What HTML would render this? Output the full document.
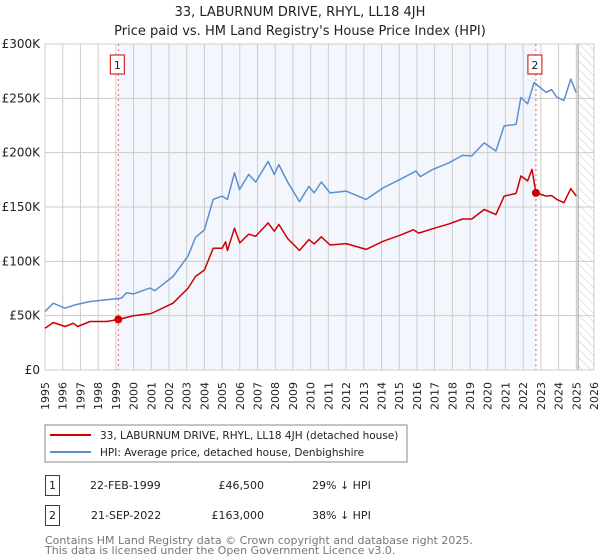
<!DOCTYPE html>
<html><head><meta charset="utf-8"><style>
body{margin:0;background:#fff;font-family:"DejaVu Sans","Liberation Sans",sans-serif;}
svg{display:block}
</style></head><body>
<svg id="chart" width="600" height="560" viewBox="0 0 600 560" font-family="DejaVu Sans, Liberation Sans, sans-serif">
<defs><pattern id="hatch" width="6" height="6" patternUnits="userSpaceOnUse" patternTransform="rotate(-45)"><line x1="0" y1="0" x2="0" y2="6" stroke="#bbb" stroke-width="0.8"/></pattern></defs>
<text x="300" y="16" text-anchor="middle" font-size="13" fill="#222">33, LABURNUM DRIVE, RHYL, LL18 4JH</text>
<text x="300" y="35" text-anchor="middle" font-size="13" fill="#222">Price paid vs. HM Land Registry's House Price Index (HPI)</text>
<g id="plot"></g>
<g>
<rect x="45" y="425" width="362" height="37" fill="#fff" stroke="#888"/>
<line x1="50" y1="435" x2="91" y2="435" stroke="#cc0000" stroke-width="2"/>
<text x="100" y="439" font-size="10.5" fill="#222">33, LABURNUM DRIVE, RHYL, LL18 4JH (detached house)</text>
<line x1="50" y1="452" x2="91" y2="452" stroke="#5b8fd0" stroke-width="2"/>
<text x="100" y="456" font-size="10.5" fill="#222">HPI: Average price, detached house, Denbighshire</text>
</g>
<g font-size="11" fill="#222">
<rect x="45.5" y="475.5" width="14" height="20" fill="#fff" stroke="#cc0000"/>
<text x="52.5" y="489" text-anchor="middle">1</text>
<text x="90" y="489">22-FEB-1999</text><text x="264" y="489" text-anchor="end">£46,500</text><text x="312" y="489">29% ↓ HPI</text>
<rect x="45.5" y="505.5" width="14" height="20" fill="#fff" stroke="#cc0000"/>
<text x="52.5" y="519" text-anchor="middle">2</text>
<text x="91" y="519">21-SEP-2022</text><text x="264" y="519" text-anchor="end">£163,000</text><text x="312" y="519">38% ↓ HPI</text>
</g>
<text x="45" y="544" font-size="11" fill="#777">Contains HM Land Registry data © Crown copyright and database right 2025.</text>
<text x="45" y="554" font-size="11" fill="#777">This data is licensed under the Open Government Licence v3.0.</text>
</svg>
<script>
const yTicks=[0,50,100,150,200,250,300];
const yTickLabels=["£0","£50K","£100K","£150K","£200K","£250K","£300K"];
const xYears=[1995,1996,1997,1998,1999,2000,2001,2002,2003,2004,2005,2006,2007,2008,2009,2010,2011,2012,2013,2014,2015,2016,2017,2018,2019,2020,2021,2022,2023,2024,2025,2026];
const hpiT=[1995.0,1995.47,1996.13,1996.7,1997.54,1998.48,1999.32,1999.6,2000.0,2000.92,2001.2,2002.23,2003.08,2003.5,2004.0,2004.5,2005.0,2005.3,2005.7,2005.98,2006.5,2006.9,2007.6,2007.95,2008.2,2008.7,2009.37,2009.9,2010.2,2010.6,2011.1,2012.0,2013.13,2014.1,2015.0,2015.95,2016.2,2016.9,2017.83,2018.57,2019.1,2019.8,2020.46,2020.93,2021.6,2021.87,2022.25,2022.62,2023.3,2023.6,2023.9,2024.3,2024.69,2025.0];
const hpiV=[53.8,61.5,56.9,59.9,63,64.6,66.2,71,70,75.4,73,86,105,122,129,157,160,157,181.5,166,180,173,192,180,189,173,155,169,163,173,163,164.6,157,167.7,175,183,178,184.6,190.8,197.5,197,209,201.5,224.6,226,250.8,245,264.6,255.5,258,251,248,267.7,255];
const priceT=[1995.0,1995.47,1996.13,1996.6,1996.85,1997.54,1998.48,1999.14,2000.0,2001.0,2002.23,2003.08,2003.5,2004.0,2004.5,2005.0,2005.2,2005.3,2005.7,2006.0,2006.5,2006.9,2007.6,2007.95,2008.2,2008.7,2009.37,2009.9,2010.2,2010.6,2011.1,2012.0,2013.13,2014.1,2015.0,2015.8,2016.1,2016.9,2017.83,2018.57,2019.1,2019.8,2020.46,2020.93,2021.6,2021.87,2022.25,2022.5,2022.72,2023.3,2023.6,2023.9,2024.3,2024.69,2025.0];
const priceV=[38.5,43.7,40,43,40,44.6,44.6,46.5,50,52,61.5,75.4,86,92,112,112,118,110,130.5,117,125,123,135.4,127.7,134,121,110,120,116,122.6,115,116.3,111,118.5,123.7,129,126,130,134.5,139,139,147.7,143,160,162.5,178.5,174,184.6,163,160,160.6,157,154,166.8,160];
const saleLabels=["1","2"];
const saleT=[1999.14,2022.72];
const saleV=[46.5,163];
const X0=45,X1=594,Y0=370,Y1=44;
const sx=t=>X0+(t-1995)/31*(X1-X0);
const sy=v=>Y0-v/300*(Y0-Y1);
const NS="http://www.w3.org/2000/svg";
const g=document.getElementById('plot');
function mk(tag,attrs,parent){const e=document.createElementNS(NS,tag);for(const k in attrs)e.setAttribute(k,attrs[k]);(parent||g).appendChild(e);return e;}
let r=mk('rect',{x:sx(saleT[0]),y:Y1,width:sx(saleT[1])-sx(saleT[0]),height:Y0-Y1,fill:'#eef3fc',opacity:0.7});


const hx=sx(2025.1);
r=mk('rect',{x:hx,y:Y1,width:X1-hx,height:Y0-Y1,fill:'url(#hatch)'});


xYears.forEach((y,i)=>{const x=sx(y);
 let l=mk('line',{x1:x,y1:Y1,x2:x,y2:Y0,stroke:'#cccccc','stroke-width':1});
 
 
 const tx=x+4, ty=Y0+12;
 let t=mk('text',{x:tx,y:ty,'text-anchor':'end','font-size':11,fill:'#222',transform:'rotate(-90 '+tx+' '+ty+')'});t.textContent=y;
 
 
});
yTicks.forEach((v,i)=>{const y=sy(v);
 let l=mk('line',{x1:X0,y1:y,x2:X1,y2:y,stroke:'#cccccc','stroke-width':1});
 
 
 let t=mk('text',{x:X0-5,y:y+4,'text-anchor':'end','font-size':12,fill:'#222'});t.textContent=yTickLabels[i];
 
 
});
let b=mk('line',{x1:hx,y1:Y1,x2:hx,y2:Y0,stroke:'#999','stroke-width':1});


let fr=mk('rect',{x:X0,y:Y1,width:X1-X0,height:Y0-Y1,fill:'none',stroke:'#cccccc'});


saleT.forEach((t,i)=>{const x=sx(t);
 let l=mk('line',{x1:x,y1:Y1,x2:x,y2:Y0,stroke:'#e06060','stroke-width':1,'stroke-dasharray':'2,3'});
 
 
});
function path(T,V){return T.map((t,i)=>(i?'L':'M')+sx(t).toFixed(1)+','+sy(V[i]).toFixed(1)).join('');}
let hp=mk('path',{d:path(hpiT,hpiV),fill:'none',stroke:'#5b8fd0','stroke-width':1.5,'stroke-linejoin':'round'});


let pp=mk('path',{d:path(priceT,priceV),fill:'none',stroke:'#cc0000','stroke-width':1.5,'stroke-linejoin':'round'});


saleT.forEach((t,i)=>{
 let c=mk('circle',{cx:sx(t),cy:sy(saleV[i]),r:4,fill:'#cc0000'});
 
 
 const x=sx(t);
 let bx=mk('rect',{x:x-8,y:55,width:14,height:19,fill:'#fff',stroke:'#cc0000'});
 
 
 let tx=mk('text',{x:x-1,y:69,'text-anchor':'middle','font-size':11,fill:'#222'});tx.textContent=saleLabels[i];
 
 
});
</script>
</body></html>
